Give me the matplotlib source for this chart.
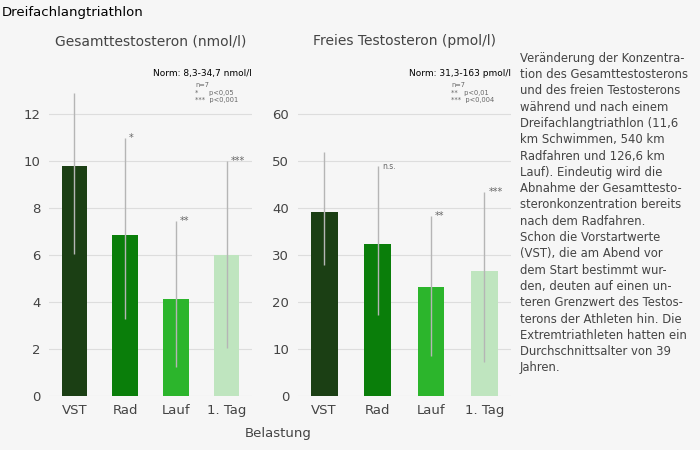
import numpy as np
import matplotlib.pyplot as plt

cats = ["VST", "Rad", "Lauf", "1. Tag"]
colors = ["#1b3f14", "#0a7e0a", "#2cb52c", "#bfe5bf"]

gesamt = [9.8, 6.85, 4.15, 6.0]
gesamt_lo = [6.05, 3.3, 1.25, 2.05]
gesamt_hi = [12.9, 11.0, 7.45, 10.0]
gesamt_sig = ["", "*", "**", "***"]

frei = [39.2, 32.4, 23.3, 26.7]
frei_lo = [28.0, 17.3, 8.5, 7.2]
frei_hi = [52.0, 49.0, 38.3, 43.5]
frei_sig = ["", "n.s.", "**", "***"]

bg = "#f6f6f6"
fig = plt.figure(figsize=(7, 4.5), dpi=100, facecolor=bg)


def panel(rect, vals, lo, hi, sig, ymax, step, title, norm, legend):
    ax = fig.add_axes(rect, facecolor=bg)
    x = np.arange(len(vals))
    ax.bar(x, vals, 0.5, color=colors, zorder=2)
    yerr = [np.array(vals) - lo, np.array(hi) - vals]
    ax.errorbar(x, vals, yerr=yerr, fmt="none", ecolor="#b5b5b5", elinewidth=1,
                capsize=0, zorder=3)
    for xi, h, s in zip(x, hi, sig):
        if s:
            ax.text(xi + 0.08, h, s, fontsize=5.5 if s == "n.s." else 7,
                    color="#666666", va="center", ha="left")
    ax.set_xlim(-0.5, 3.5)
    ax.set_ylim(0, ymax * 14 / 12)
    ax.set_yticks(np.arange(0, ymax + 1, step))
    ax.set_xticks(x)
    ax.set_xticklabels(cats)
    ax.tick_params(length=0, labelsize=9.5, colors="#444444", pad=6)
    ax.yaxis.grid(True, color="#dddddd", lw=0.8, zorder=0)
    for sp in ax.spines.values():
        sp.set_visible(False)
    ax.set_title(title, fontsize=10, color="#444444", pad=16)
    ax.text(1.0, 0.975, norm, transform=ax.transAxes, ha="right", fontsize=6.5)
    ax.text(0.72, 0.955, legend, transform=ax.transAxes, ha="left", va="top",
            fontsize=4.8, color="#666666", linespacing=1.3)
    return ax


panel([0.07, 0.12, 0.29, 0.73], gesamt, gesamt_lo, gesamt_hi, gesamt_sig, 12, 2,
      "Gesamttestosteron (nmol/l)", "Norm: 8,3-34,7 nmol/l",
      "n=7\n*     p<0,05\n***  p<0,001")
panel([0.425, 0.12, 0.305, 0.73], frei, frei_lo, frei_hi, frei_sig, 60, 10,
      "Freies Testosteron (pmol/l)", "Norm: 31,3-163 pmol/l",
      "n=7\n**   p<0,01\n***  p<0,004")

fig.text(0.003, 0.972, "Dreifachlangtriathlon", fontsize=9.5, va="center")
fig.text(0.398, 0.028, "Belastung", fontsize=9.5, color="#444444", ha="center")
desc = ("Veränderung der Konzentra-\ntion des Gesamttestosterons\n"
        "und des freien Testosterons\nwährend und nach einem\n"
        "Dreifachlangtriathlon (11,6\nkm Schwimmen, 540 km\n"
        "Radfahren und 126,6 km\nLauf). Eindeutig wird die\n"
        "Abnahme der Gesamttesto-\nsteronkonzentration bereits\n"
        "nach dem Radfahren.\nSchon die Vorstartwerte\n"
        "(VST), die am Abend vor\ndem Start bestimmt wur-\n"
        "den, deuten auf einen un-\nteren Grenzwert des Testos-\n"
        "terons der Athleten hin. Die\nExtremtriathleten hatten ein\n"
        "Durchschnittsalter von 39\nJahren.")
fig.text(0.743, 0.885, desc, fontsize=8.4, color="#444444", va="top",
         linespacing=1.33)

plt.savefig("out.png", dpi=100, facecolor=bg)
